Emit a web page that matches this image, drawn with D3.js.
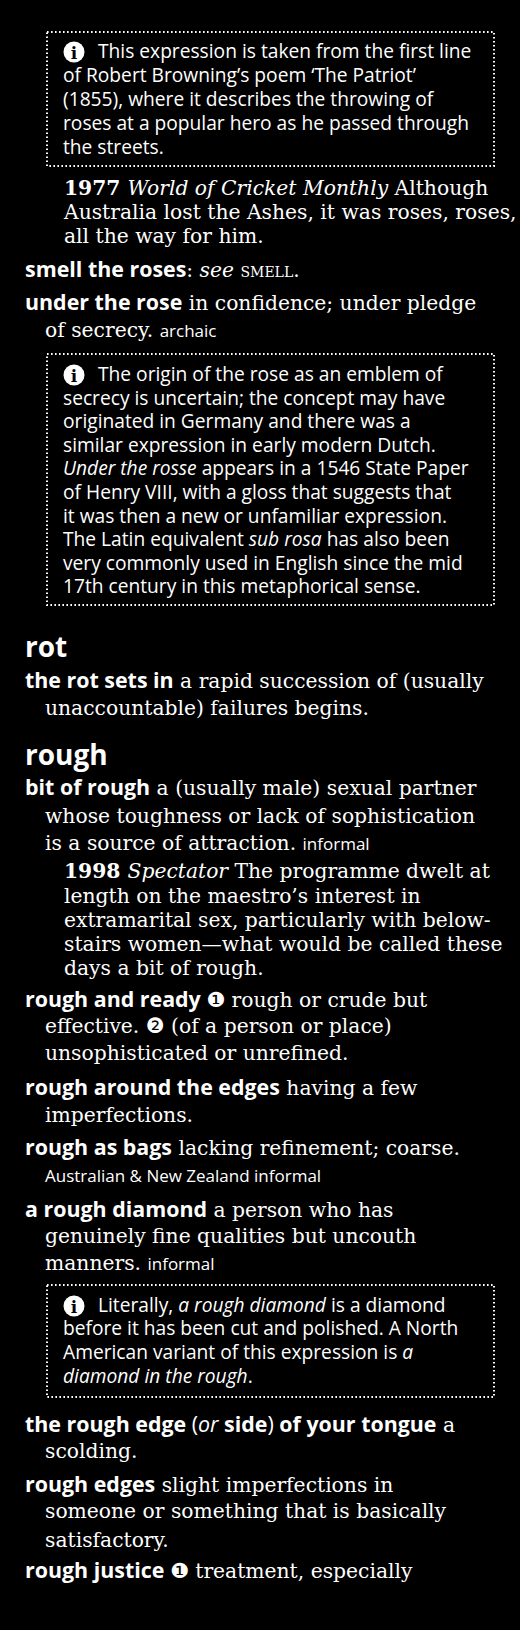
<!DOCTYPE html>
<html><head><meta charset="utf-8">
<script src="https://cdn.jsdelivr.net/npm/d3@7"></script>
<style>body{margin:0;background:#000}</style>
</head><body>
<script>
// each line: [x, baseline, segments]; segment = [style, text]
var lines = [
  [98, 58, [["sans","This expression is taken from the first line"]]],
  [63, 82, [["sans","of Robert Browning’s poem ‘The Patriot’"]]],
  [63, 106, [["sans","(1855), where it describes the throwing of"]]],
  [63, 130, [["sans","roses at a popular hero as he passed through"]]],
  [63, 154, [["sans","the streets."]]],
  [64, 195, [["sb","1977 "],["si","World of Cricket Monthly"],["s"," Although"]]],
  [64, 219, [["s","Australia lost the Ashes, it was roses, roses,"]]],
  [64, 243, [["s","all the way for him."]]],
  [25, 277, [["hb","smell the roses"],["s",": "],["si","see "],["sc","smell."]]],
  [25, 310, [["hb","under the rose"],["s"," in confidence; under pledge"]]],
  [45, 337, [["s","of secrecy. "],["lab","archaic"]]],
  [98, 381, [["sans","The origin of the rose as an emblem of"]]],
  [63, 405, [["sans","secrecy is uncertain; the concept may have"]]],
  [63, 428, [["sans","originated in Germany and there was a"]]],
  [63, 452, [["sans","similar expression in early modern Dutch."]]],
  [63, 475, [["sansi","Under the rosse"],["sans"," appears in a 1546 State Paper"]]],
  [63, 499, [["sans","of Henry VIII, with a gloss that suggests that"]]],
  [63, 523, [["sans","it was then a new or unfamiliar expression."]]],
  [63, 546, [["sans","The Latin equivalent "],["sansi","sub rosa"],["sans"," has also been"]]],
  [63, 570, [["sans","very commonly used in English since the mid"]]],
  [63, 593, [["sans","17th century in this metaphorical sense."]]],
  [25, 657, [["hw","rot"]]],
  [25, 688, [["hb","the rot sets in"],["s"," a rapid succession of (usually"]]],
  [45, 715, [["s","unaccountable) failures begins."]]],
  [25, 765, [["hw","rough"]]],
  [25, 795, [["hb","bit of rough"],["s"," a (usually male) sexual partner"]]],
  [45, 823, [["s","whose toughness or lack of sophistication"]]],
  [45, 850, [["s","is a source of attraction. "],["lab","informal"]]],
  [64, 878, [["sb","1998 "],["si","Spectator"],["s"," The programme dwelt at"]]],
  [64, 903, [["s","length on the maestro’s interest in"]]],
  [64, 927, [["s","extramarital sex, particularly with below-"]]],
  [64, 951, [["s","stairs women—what would be called these"]]],
  [64, 975, [["s","days a bit of rough."]]],
  [25, 1007, [["hb","rough and ready "],["num","❶"],["s"," rough or crude but"]]],
  [45, 1033, [["s","effective. "],["num","❷"],["s"," (of a person or place)"]]],
  [45, 1060, [["s","unsophisticated or unrefined."]]],
  [25, 1095, [["hb","rough around the edges"],["s"," having a few"]]],
  [45, 1122, [["s","imperfections."]]],
  [25, 1155, [["hb","rough as bags"],["s"," lacking refinement; coarse."]]],
  [45, 1182, [["lab","Australian & New Zealand informal"]]],
  [25, 1217, [["hb","a rough diamond"],["s"," a person who has"]]],
  [45, 1243, [["s","genuinely fine qualities but uncouth"]]],
  [45, 1270, [["s","manners. "],["lab","informal"]]],
  [98, 1312, [["sans","Literally, "],["sansi","a rough diamond"],["sans"," is a diamond"]]],
  [63, 1335, [["sans","before it has been cut and polished. A North"]]],
  [63, 1359, [["sans","American variant of this expression is "],["sansi","a"]]],
  [63, 1383, [["sansi","diamond in the rough"],["sans","."]]],
  [25, 1432, [["hb","the rough edge "],["hs","("],["hsi","or"],["hb"," side"],["hs",")"],["hb"," of your tongue"],["s"," a"]]],
  [45, 1458, [["s","scolding."]]],
  [25, 1492, [["hb","rough edges"],["s"," slight imperfections in"]]],
  [45, 1518, [["s","someone or something that is basically"]]],
  [45, 1547, [["s","satisfactory."]]],
  [25, 1578, [["hb","rough justice "],["num","❶"],["s"," treatment, especially"]]]
];
// note boxes: [top, bottom, info icon baseline]
var boxes = [[32, 166, 58], [354, 605, 381], [1285, 1397, 1312]];

var styles = {
  sans: {f:"'Open Sans'", s:19.2, w:400, i:"normal"},
  sansi: {f:"'Open Sans'", s:19.2, w:400, i:"italic"},
  s: {f:"'DejaVu Serif'", s:20.3, w:400, i:"normal"},
  si: {f:"'DejaVu Serif'", s:20.3, w:400, i:"italic"},
  sb: {f:"'DejaVu Serif'", s:20.3, w:700, i:"normal"},
  sc: {f:"'DejaVu Serif'", s:20.3, w:400, i:"normal", v:"small-caps"},
  hb: {f:"'Open Sans'", s:21.4, w:700, i:"normal"},
  hs: {f:"'Open Sans'", s:21.4, w:400, i:"normal"},
  hsi: {f:"'Open Sans'", s:21.4, w:400, i:"italic"},
  hw: {f:"'Open Sans'", s:28, w:700, i:"normal"},
  lab: {f:"'Open Sans'", s:17, w:400, i:"normal"},
  num: {f:"'DejaVu Sans'", s:21, w:400, i:"normal"}
};

var svg = d3.select("body").append("svg").attr("width", 520).attr("height", 1630);
svg.append("rect").attr("width", 520).attr("height", 1630).attr("fill", "#000");

svg.selectAll("rect.box").data(boxes).enter().append("rect")
  .attr("class", "box")
  .attr("x", 47).attr("y", function(d){ return d[0]; })
  .attr("width", 447).attr("height", function(d){ return d[1] - d[0]; })
  .attr("fill", "none").attr("stroke", "#fff").attr("stroke-width", 2)
  .attr("stroke-dasharray", "1.6,2.4");

var icon = svg.selectAll("g.icon").data(boxes).enter().append("g")
  .attr("transform", function(d){ return "translate(74," + (d[2] - 6) + ")"; });
icon.append("circle").attr("r", 10.5).attr("fill", "#fff");
icon.append("text").attr("text-anchor", "middle").attr("y", 6.5)
  .attr("font-family", "'DejaVu Serif'").attr("font-weight", 700).attr("font-size", 17)
  .attr("fill", "#000").text("i");

var t = svg.selectAll("text.ln").data(lines).enter().append("text")
  .attr("class", "ln").attr("x", function(d){ return d[0]; })
  .attr("y", function(d){ return d[1]; })
  .attr("fill", "#fff").attr("xml:space", "preserve").style("white-space", "pre");
t.selectAll("tspan").data(function(d){ return d[2]; }).enter().append("tspan")
  .attr("font-family", function(d){ return styles[d[0]].f; })
  .attr("font-size", function(d){ return styles[d[0]].s; })
  .attr("font-weight", function(d){ return styles[d[0]].w; })
  .attr("font-style", function(d){ return styles[d[0]].i; })
  .attr("font-variant", function(d){ return styles[d[0]].v || "normal"; })
  .text(function(d){ return d[1]; });
</script>
</body></html>
